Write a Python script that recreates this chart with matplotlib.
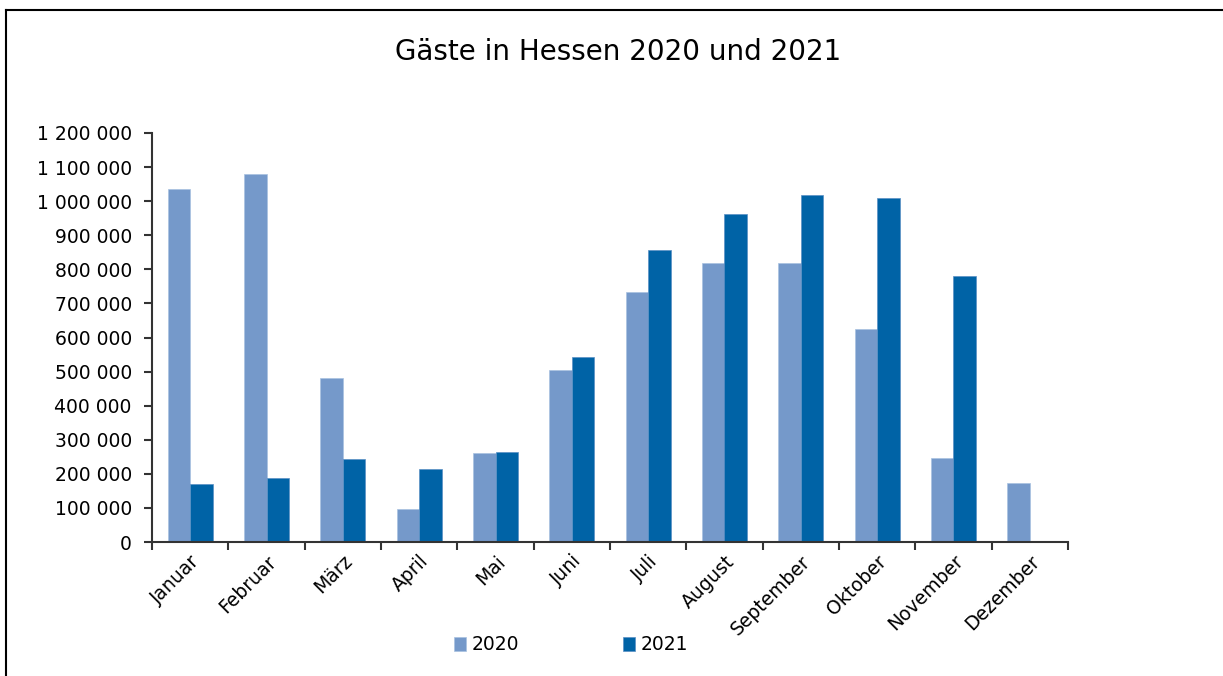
import matplotlib
matplotlib.use("Agg")
import matplotlib.pyplot as plt
from matplotlib.lines import Line2D
from matplotlib.ticker import FuncFormatter, FixedLocator
import numpy as np

months = ["Januar", "Februar", "März", "April", "Mai", "Juni", "Juli",
          "August", "September", "Oktober", "November", "Dezember"]
gaeste_2020 = [1034800, 1078800, 481000, 97000, 261000, 504700, 732600,
               819800, 819800, 626000, 247600, 174300]
gaeste_2021 = [169000, 187000, 243000, 214000, 264000, 544000, 857900,
               961500, 1017000, 1008000, 779600, np.nan]
series_labels = ["2020", "2021"]
title = "Gäste in Hessen 2020 und 2021"

c2020 = "#7599CA"
c2021 = "#0063A6"

plt.rcParams['font.family'] = ['DejaVu Sans']

fig = plt.figure(figsize=(12.23, 6.76), dpi=100)
ax = fig.add_axes([152/1223, 1-542/676, (1068-152)/1223, (542-133)/676])

x = np.arange(len(months))
w = 0.295
ax.bar(x - w/2, gaeste_2020, width=w, color=c2020, label=series_labels[0],
       edgecolor="#A9C1E0", linewidth=0.5)
ax.bar(x + w/2, gaeste_2021, width=w, color=c2021, label=series_labels[1],
       edgecolor="#5A8FC4", linewidth=0.5)

ax.set_xlim(-0.5, len(months) - 0.5)
ax.set_ylim(0, 1200000)
ax.set_yticks(np.arange(0, 1200001, 100000))
ax.yaxis.set_major_formatter(FuncFormatter(lambda v, p: f"{int(v):,}".replace(",", " ")))

ax.xaxis.set_major_locator(FixedLocator(np.arange(-0.5, len(months), 1.0)))
ax.xaxis.set_minor_locator(FixedLocator(x))
ax.set_xticklabels([], minor=False)
ax.set_xticklabels(months, minor=True, rotation=45, ha="right",
                   rotation_mode="anchor", fontsize=13.5)
ax.tick_params(axis="x", which="minor", length=0, pad=7)
ax.tick_params(axis="x", which="major", length=6, width=1.5, color="#333333", direction="out")
ax.tick_params(axis="y", length=6, width=1.5, color="#333333", direction="out",
               labelsize=13.5, pad=8.5)

for s in ["top", "right"]:
    ax.spines[s].set_visible(False)
for s in ["left", "bottom"]:
    ax.spines[s].set_color("#333333")
    ax.spines[s].set_linewidth(1.5)

fig.text(618/1223, 1-52/676, title, ha="center", va="center", fontsize=20)

leg = fig.legend(loc="center", bbox_to_anchor=(571/1223, 1-645/676), ncol=2,
                 frameon=False, fontsize=13.5, handlelength=0.65, handleheight=0.7,
                 handletextpad=0.3, columnspacing=5.5)

# outer frame (left and top edges visible)
fig.add_artist(Line2D([6/1223, 6/1223], [-0.05, 1-9.5/676], transform=fig.transFigure,
                      color="black", lw=1.5))
fig.add_artist(Line2D([6/1223, 1.05], [1-9.5/676, 1-9.5/676], transform=fig.transFigure,
                      color="black", lw=1.5))

fig.savefig("out.png", dpi=100)
